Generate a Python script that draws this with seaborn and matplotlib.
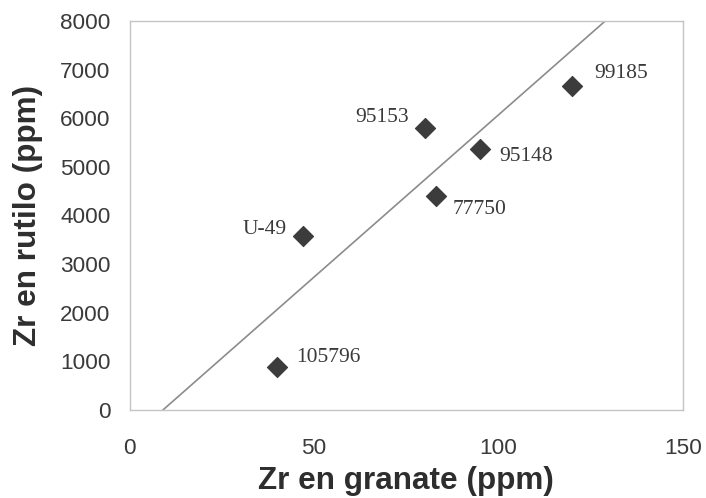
import matplotlib
matplotlib.use('Agg')
import matplotlib.pyplot as plt
import seaborn as sns
import pandas as pd

# muestras: Zr en granate vs Zr en rutilo
samples = ['105796', 'U-49', '95153', '77750', '95148', '99185']
zr_granate = [40, 47, 80, 83, 95, 120]
zr_rutilo = [890, 3580, 5800, 4390, 5370, 6660]

# recta de referencia
line_x = [9, 129]
line_y = [0, 8000]

# desplazamiento de etiquetas (pixeles) y alineación
label_dx = [19, -16, -16, 17, 19, 22]
label_dy = [9, 6, 10, -13, -8, 13]
label_ha = ['left', 'right', 'right', 'left', 'left', 'left']

df = pd.DataFrame({'granate': zr_granate, 'rutilo': zr_rutilo, 'muestra': samples})
df_line = pd.DataFrame({'x': line_x, 'y': line_y})

sns.set_style('white')
plt.rcParams['font.family'] = ['Liberation Sans', 'DejaVu Sans']

fig = plt.figure(figsize=(7.06, 4.98), dpi=100)
ax = fig.add_axes([0.184, 0.177, 0.783, 0.781])

sns.lineplot(data=df_line, x='x', y='y', ax=ax, color='#8c8c8c', lw=1.2)
sns.scatterplot(data=df, x='granate', y='rutilo', ax=ax, marker='D', s=105,
                color='#3c3c3c', edgecolor='#3c3c3c', zorder=3)

for i, name in enumerate(samples):
    ax.annotate(name, (zr_granate[i], zr_rutilo[i]), xytext=(label_dx[i], label_dy[i]),
                textcoords='offset pixels', ha=label_ha[i], va='center',
                fontsize=15.5, family='Liberation Serif', color='#3a3a3a')

ax.set_xlim(0, 150)
ax.set_ylim(0, 8000)
ax.set_xticks([0, 50, 100, 150])
ax.set_yticks(range(0, 8001, 1000))

for s in ax.spines.values():
    s.set_color('#c4c4c4')
    s.set_linewidth(1)

ax.tick_params(axis='both', direction='out', length=6, width=1, color='#c4c4c4',
               labelsize=16.2, labelcolor='#3a3a3a')
ax.tick_params(axis='x', pad=14)
ax.tick_params(axis='y', pad=8)

ax.set_xlabel('Zr en granate (ppm)', fontsize=22.7, fontweight='bold', color='#2e2e2e', labelpad=5)
ax.set_ylabel('Zr en rutilo (ppm)', fontsize=22.7, fontweight='bold', color='#2e2e2e', labelpad=12)

fig.savefig('out.png', dpi=100, facecolor='white')
